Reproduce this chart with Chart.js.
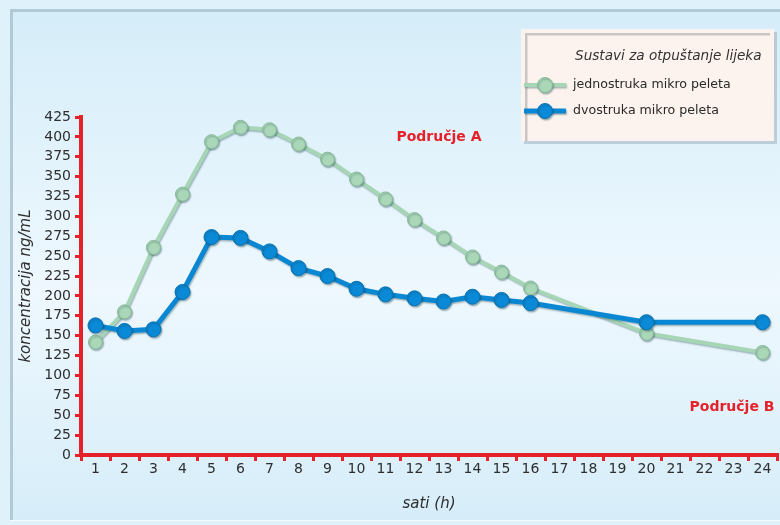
<!DOCTYPE html>
<html>
<head>
<meta charset="utf-8">
<script src="https://cdn.jsdelivr.net/npm/chart.js@4/dist/chart.umd.min.js"></script>
<style>
  html, body { margin: 0; padding: 0; background: #dff1fa; }
  #wrap { width: 780px; height: 525px; }
</style>
</head>
<body>
<div id="wrap"><canvas id="c" width="780" height="525"></canvas></div>
<script>
// Hour ticks on the x axis
const hourLabels = ['1','2','3','4','5','6','7','8','9','10','11','12','13','14','15','16','17','18','19','20','21','22','23','24'];
// Hours at which concentration was measured
const sampleHours = ['1','2','3','4','5','6','7','8','9','10','11','12','13','14','15','16','20','24'];
// Plasma concentration (ng/mL) for each release system
const singlePellet = [142, 180, 261, 328, 394, 412, 409, 391, 372, 347, 322, 296, 273, 249, 230, 210, 153, 129];
const doublePellet = [163, 156, 158, 205, 274, 273, 256, 235, 225, 209, 202, 197, 193, 199, 195, 191, 167, 167];
const seriesNames = ['jednostruka mikro peleta', 'dvostruka mikro peleta'];
const legendTitle = 'Sustavi za otpuštanje lijeka';
const regionLabels = ['Područje A', 'Područje B'];

const RED = '#e62129';
const FONT = "'DejaVu Sans', sans-serif";
Chart.defaults.font.family = FONT;

const toPoints = vals => sampleHours.map((h, i) => ({ x: h, y: vals[i] }));

// Page background and framed panel
const backdrop = {
  id: 'backdrop',
  beforeDraw(chart) {
    const ctx = chart.ctx;
    ctx.save();
    ctx.fillStyle = '#dff1fa';
    ctx.fillRect(0, 0, chart.width, chart.height);
    const g = ctx.createLinearGradient(0, 10, 0, 520);
    g.addColorStop(0, '#d5edf9');
    g.addColorStop(0.55, '#eef8fe');
    g.addColorStop(1, '#d6edf9');
    ctx.fillStyle = g;
    ctx.fillRect(10, 9, chart.width - 10, 511);
    ctx.fillStyle = '#b2cad6';
    ctx.fillRect(10, 9, 3, 511);
    ctx.fillRect(10, 9, chart.width - 10, 3);
    ctx.fillStyle = '#f4fbfe';
    ctx.fillRect(10, 520, chart.width - 10, 1);
    ctx.restore();
  }
};

// Soft drop shadow under the lines and markers
const lineShadow = {
  id: 'lineShadow',
  beforeDatasetDraw(chart) {
    const ctx = chart.ctx;
    ctx.save();
    ctx.shadowColor = 'rgba(20,60,70,0.35)';
    ctx.shadowOffsetX = 1;
    ctx.shadowOffsetY = 1.5;
    ctx.shadowBlur = 1.5;
  },
  afterDatasetDraw(chart) {
    chart.ctx.restore();
  }
};

// Region captions and the boxed legend
const overlay = {
  id: 'overlay',
  afterDraw(chart) {
    const ctx = chart.ctx;
    const area = chart.chartArea;
    ctx.save();
    ctx.fillStyle = RED;
    ctx.font = 'bold 14px ' + FONT;
    ctx.textAlign = 'center';
    ctx.textBaseline = 'middle';
    ctx.fillText(regionLabels[0], area.left + 358, area.top + 20);
    ctx.fillText(regionLabels[1], area.right - 45, area.top + 290);

    // legend box
    const bx = 521, by = 29, bw = 253, bh = 112;
    ctx.fillStyle = 'rgba(120,140,150,0.35)';
    ctx.fillRect(bx + 3, by + 3, bw, bh);
    ctx.fillStyle = '#fcf3ee';
    ctx.fillRect(bx, by, bw, bh);
    ctx.fillStyle = '#cbc6c3';
    ctx.fillRect(bx + 4, by + 4, 2.5, bh - 4);
    ctx.fillRect(bx + 4, by + 4, bw - 8, 2.5);

    ctx.fillStyle = '#333';
    ctx.textAlign = 'left';
    ctx.font = 'italic 13.6px ' + FONT;
    ctx.fillText(legendTitle, 575, 56);

    const rows = [85, 111];
    chart.data.datasets.forEach((ds, i) => {
      const y = rows[i];
      ctx.save();
      ctx.shadowColor = 'rgba(20,60,70,0.35)';
      ctx.shadowOffsetX = 1;
      ctx.shadowOffsetY = 1.5;
      ctx.shadowBlur = 1.5;
      ctx.strokeStyle = ds.borderColor;
      ctx.lineWidth = ds.borderWidth;
      ctx.beginPath();
      ctx.moveTo(524, y);
      ctx.lineTo(566, y);
      ctx.stroke();
      ctx.fillStyle = ds.pointBackgroundColor;
      ctx.strokeStyle = ds.pointBorderColor;
      ctx.lineWidth = 1;
      ctx.beginPath();
      ctx.arc(545, y, 7.5, 0, Math.PI * 2);
      ctx.fill();
      ctx.stroke();
      ctx.restore();
      ctx.fillStyle = '#2a2a2a';
      ctx.font = '12.6px ' + FONT;
      ctx.fillText(ds.label, 573, y);
    });
    ctx.restore();
  }
};

new Chart(document.getElementById('c'), {
  type: 'line',
  data: {
    labels: hourLabels,
    datasets: [
      {
        label: seriesNames[0],
        data: toPoints(singlePellet),
        borderColor: '#a6d6b6',
        borderWidth: 4,
        pointBackgroundColor: '#a9d7b8',
        pointBorderColor: '#88bb98',
        pointBorderWidth: 1,
        pointRadius: 7,
        tension: 0,
        order: 1
      },
      {
        label: seriesNames[1],
        data: toPoints(doublePellet),
        borderColor: '#0a87d2',
        borderWidth: 5,
        pointBackgroundColor: '#0a89d6',
        pointBorderColor: '#0873b4',
        pointBorderWidth: 1,
        pointRadius: 7.5,
        tension: 0,
        order: 0
      }
    ]
  },
  options: {
    responsive: false,
    animation: false,
    spanGaps: true,
    layout: { autoPadding: false, padding: { top: 117, right: 3, left: 0, bottom: 0 } },
    plugins: {
      legend: { display: false },
      tooltip: { enabled: false }
    },
    scales: {
      x: {
        type: 'category',
        offset: true,
        afterFit(s) { s.height = 70; s.paddingLeft = 0; s.paddingRight = 0; },
        grid: {
          offset: true,
          drawOnChartArea: false,
          tickLength: 6,
          tickColor: RED,
          tickWidth: 3,
          color: RED,
          lineWidth: 3
        },
        border: { color: RED, width: 4 },
        ticks: { color: '#2e2e2e', font: { size: 14 }, padding: 0, autoSkip: false, maxRotation: 0 },
        title: {
          display: true,
          text: 'sati (h)',
          color: '#2e2e2e',
          font: { size: 15, style: 'italic' },
          padding: { top: 0, bottom: 12 }
        }
      },
      y: {
        min: 0,
        max: 425,
        afterFit(s) { s.width = 81; },
        grid: {
          drawOnChartArea: false,
          tickLength: 6,
          tickColor: RED,
          tickWidth: 3,
          color: RED,
          lineWidth: 3
        },
        border: { color: RED, width: 4 },
        ticks: { stepSize: 25, color: '#2e2e2e', font: { size: 14 }, padding: 4 },
        title: {
          display: true,
          text: 'koncentracija ng/mL',
          color: '#2e2e2e',
          font: { size: 15, style: 'italic' },
          padding: { top: 17, bottom: 0 }
        }
      }
    }
  },
  plugins: [backdrop, lineShadow, overlay]
});
</script>
</body>
</html>
